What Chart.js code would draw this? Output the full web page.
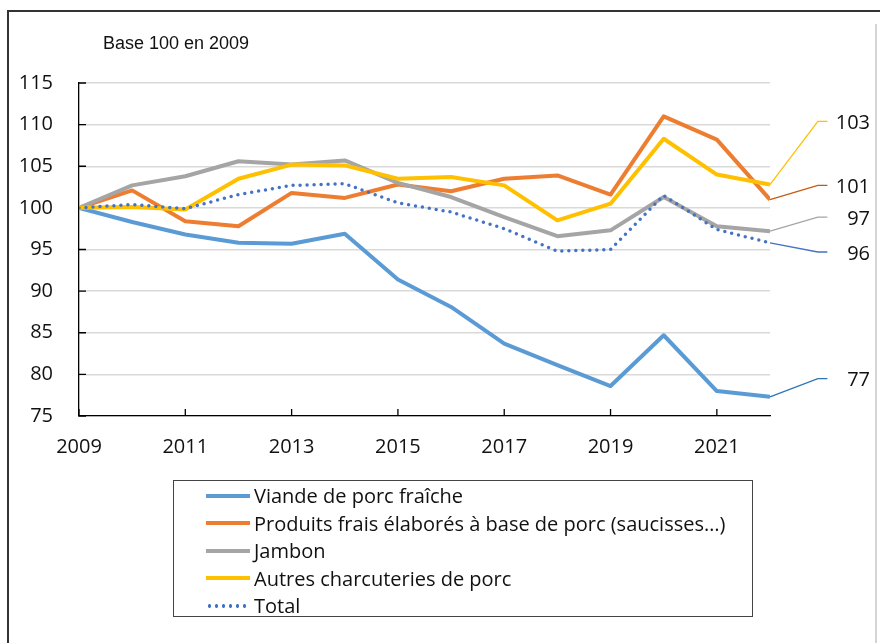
<!DOCTYPE html>
<html lang="fr">
<head>
<meta charset="utf-8">
<script src="https://cdn.jsdelivr.net/npm/chart.js@4.4.1/dist/chart.umd.min.js"></script>
<style>
  html, body { margin: 0; padding: 0; background: #fff; }
  #frame { position: relative; width: 880px; height: 643px; overflow: hidden; font-family: "Open Sans", sans-serif; color: #111; }
  #border { position: absolute; left: 7px; top: 10px; right: -5px; bottom: -5px; border-top: 2.5px solid #333; border-left: 2.5px solid #333; }
  #rightLine { position: absolute; left: 875px; top: 24px; bottom: 0; width: 1.5px; background: #d4d4d4; }
  #wrap { position: absolute; left: 0; top: 0; width: 880px; height: 643px; }
  #unit { position: absolute; left: 103px; top: 33px; font: 18px/20px "Liberation Sans", Arial, sans-serif; }
  #legend { position: absolute; left: 173px; top: 480px; width: 580px; height: 137px; box-sizing: border-box;
            border: 1.3px solid #444; padding-top: 1px; background: #fff; }
  .item { height: 27.5px; display: flex; align-items: center; font-size: 20px; white-space: nowrap; }
  .swatch { width: 44px; height: 4px; margin-left: 32px; margin-right: 4px; flex: none; }
</style>
</head>
<body>
<div id="frame">
  <div id="border"></div>
  <div id="rightLine"></div>
  <div id="wrap"><canvas id="chart"></canvas></div>
  <div id="unit">Base 100 en 2009</div>
  <div id="legend"></div>
</div>
<script>
const years = [2009, 2010, 2011, 2012, 2013, 2014, 2015, 2016, 2017, 2018, 2019, 2020, 2021, 2022];
const xTickYears = [2009, 2011, 2013, 2015, 2017, 2019, 2021];
const yMin = 75;
const yMax = 115;
const yStep = 5;

const viande = [100, 98.3, 96.8, 95.8, 95.7, 96.9, 91.4, 88.1, 83.7, 81.1, 78.6, 84.7, 78.0, 77.3];
const produitsFrais = [100, 102.1, 98.4, 97.8, 101.8, 101.2, 102.8, 102.0, 103.5, 103.9, 101.6, 111.0, 108.2, 101.0];
const jambon = [100, 102.7, 103.8, 105.6, 105.2, 105.7, 103.0, 101.3, 98.9, 96.6, 97.3, 101.3, 97.8, 97.2];
const autres = [100, 100.1, 99.8, 103.5, 105.2, 105.1, 103.5, 103.7, 102.7, 98.5, 100.5, 108.3, 104.0, 102.8];
const total = [100, 100.4, 99.9, 101.6, 102.7, 102.9, 100.6, 99.5, 97.5, 94.8, 95.0, 101.5, 97.4, 95.8];

// where each end-label leader line ends (value on the y axis)
const leaderEnds = [79.5, 102.7, 98.9, 110.4, 94.7];

const series = [
  { label: "Viande de porc fraîche", data: viande, color: "#5B9BD5", leader: "#2E75B6" },
  { label: "Produits frais élaborés à base de porc (saucisses…)", data: produitsFrais, color: "#ED7D31", leader: "#C55A11" },
  { label: "Jambon", data: jambon, color: "#A5A5A5", leader: "#A5A5A5" },
  { label: "Autres charcuteries de porc", data: autres, color: "#FFC000", leader: "#FFC000" },
  { label: "Total", data: total, color: "#4472C4", leader: "#4472C4", dotted: true },
];

const lastYear = years[years.length - 1];

const mainSets = series.map((s, i) => ({
  label: s.label,
  data: years.map((yr, k) => ({ x: yr, y: s.data[k] })),
  borderColor: s.color,
  backgroundColor: s.color,
  borderWidth: s.dotted ? 3.5 : 4,
  borderDash: s.dotted ? [0, 7] : [],
  borderCapStyle: s.dotted ? "round" : "butt",
  borderJoinStyle: "round",
  pointRadius: 0,
  tension: 0,
  order: series.length - i,
}));

const axisMarks = {
  id: "axisMarks",
  beforeDatasetsDraw(chart) {
    const { ctx, chartArea, scales: { x, y } } = chart;
    ctx.save();
    ctx.strokeStyle = "#000";
    ctx.lineWidth = 1.3;
    ctx.beginPath();
    y.ticks.forEach((t) => {
      const py = y.getPixelForValue(t.value);
      ctx.moveTo(chartArea.left, py);
      ctx.lineTo(chartArea.left + 7, py);
    });
    x.ticks.forEach((t) => {
      const px = x.getPixelForValue(t.value);
      ctx.moveTo(px, chartArea.bottom);
      ctx.lineTo(px, chartArea.bottom - 7);
    });
    ctx.stroke();
    ctx.restore();
  },
  afterDraw(chart) {
    const { ctx, chartArea, scales: { x, y } } = chart;
    ctx.save();
    // leader lines from the last point to the end labels
    ctx.lineWidth = 1.3;
    series.forEach((s, i) => {
      const last = s.data[s.data.length - 1];
      ctx.strokeStyle = s.leader;
      ctx.beginPath();
      ctx.moveTo(x.getPixelForValue(lastYear), y.getPixelForValue(last));
      ctx.lineTo(x.getPixelForValue(lastYear + 0.9), y.getPixelForValue(leaderEnds[i]));
      ctx.lineTo(x.getPixelForValue(lastYear + 1.08), y.getPixelForValue(leaderEnds[i]));
      ctx.stroke();
    });
    ctx.font = '20px "Open Sans"';
    ctx.fillStyle = "#111";
    ctx.textAlign = "right";
    ctx.textBaseline = "middle";
    series.forEach((s, i) => {
      const last = s.data[s.data.length - 1];
      ctx.fillText(String(Math.round(last)), chartArea.right + 100, y.getPixelForValue(leaderEnds[i]) + 2);
    });
    ctx.restore();
  },
};

Chart.defaults.font.family = '"Open Sans", sans-serif';
Chart.defaults.color = "#111";

new Chart(document.getElementById("chart"), {
  type: "line",
  data: { datasets: mainSets },
  options: {
    responsive: true,
    maintainAspectRatio: false,
    animation: false,
    devicePixelRatio: 1,
    layout: { padding: { left: 0, top: 83, right: 110, bottom: 167 } },
    plugins: { legend: { display: false }, tooltip: { enabled: false } },
    scales: {
      x: {
        type: "linear",
        min: years[0],
        max: lastYear,
        afterBuildTicks: (scale) => { scale.ticks = xTickYears.map((v) => ({ value: v })); },
        afterFit: (scale) => { scale.height = 60; },
        grid: { drawOnChartArea: false, drawTicks: false },
        border: { display: true, color: "#000", width: 1.3 },
        ticks: { font: { size: 20 }, padding: 19, maxRotation: 0, callback: (v) => String(v) },
      },
      y: {
        min: yMin,
        max: yMax,
        afterFit: (scale) => { scale.width = 79; },
        grid: { color: "#d9d9d9", lineWidth: 1.5, drawTicks: false },
        border: { display: true, color: "#000", width: 1.3 },
        ticks: { stepSize: yStep, font: { size: 20 }, padding: 26 },
      },
    },
  },
  plugins: [axisMarks],
});

const legend = document.getElementById("legend");
series.forEach((s) => {
  const row = document.createElement("div");
  row.className = "item";
  const sw = document.createElement("span");
  sw.className = "swatch";
  if (s.dotted) {
    sw.style.background = `radial-gradient(circle, ${s.color} 1.6px, transparent 2px) 0 0 / 7px 4px repeat-x`;
  } else {
    sw.style.background = s.color;
  }
  const txt = document.createElement("span");
  txt.textContent = s.label;
  row.appendChild(sw);
  row.appendChild(txt);
  legend.appendChild(row);
});
</script>
</body>
</html>
